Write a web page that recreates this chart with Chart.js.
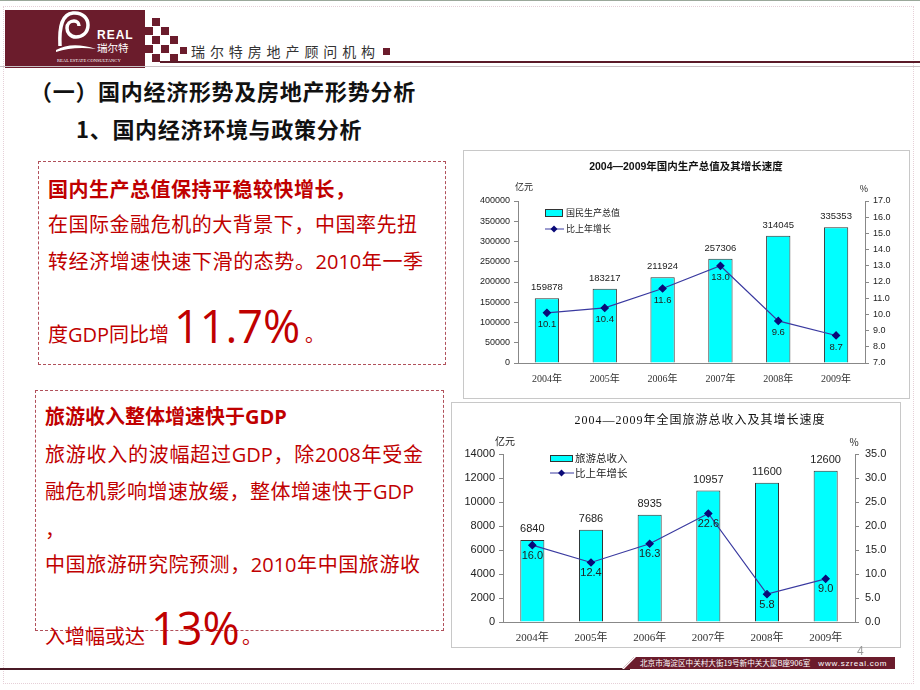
<!DOCTYPE html>
<html>
<head>
<meta charset="utf-8">
<script src="https://cdn.jsdelivr.net/npm/chart.js@4.4.1/dist/chart.umd.min.js"></script>
<style>
  html, body { margin: 0; padding: 0; background: #fff; }
  body { width: 920px; height: 690px; position: relative; overflow: hidden; font-family: "Noto Sans CJK SC", sans-serif; }
  .abs { position: absolute; white-space: nowrap; }
  .sq { position: absolute; width: 8px; height: 8px; background: #6b1c2c; }
  .red { color: #c00000; font-family: "Open Sans", "Noto Sans CJK SC"; font-size: 20px; line-height: 20px; height: 20px; }
  .jus { text-align: justify; text-align-last: justify; white-space: normal; }
  .big { color: #c00000; font-family: "Open Sans", "Noto Sans CJK SC"; font-size: 45px; line-height: 45px; }
  .box { position: absolute; border: 1px dashed #b0505a; box-sizing: border-box; }
  .frame { position: absolute; border: 1px solid #c8c8c8; box-sizing: border-box; }
  canvas { position: absolute; }
</style>
</head>
<body>
<!-- slide frame -->
<div class="abs" style="left:0;top:0;width:920px;height:1px;background:#9aa89a"></div>
<div class="abs" style="left:3px;top:6px;width:911px;height:678px;border:1px dotted #e6d0d8;box-sizing:border-box"></div>

<!-- header -->
<div class="abs" style="left:5px;top:10px;width:140px;height:58px;background:#6b1c2c"></div>
<svg class="abs" style="left:0;top:0" width="150" height="70">
  <path d="M60,46 C59,26 62,14 73,13 C83,12 88,19 88,25 C88,33 82,37 76,37 C70,37 67,32 67,28 C67,24 70,21 74,21 C77,21 79,23 79,26" fill="none" stroke="#fff" stroke-width="3.5"/>
  <path d="M56,50 Q72,41 96,49 Q74,46 56,52 Z" fill="#fff"/>
  <text x="97" y="39" fill="#fff" font-family="Liberation Sans" font-weight="bold" font-size="12" letter-spacing="1">REAL</text>
  <text x="97" y="52" fill="#fff" font-family="Noto Sans CJK SC" font-size="10.5">瑞尔特</text>
  <text x="57" y="62" fill="#fff" font-family="Liberation Serif" font-size="4.6">REAL ESTATE CONSULTANCY</text>
</svg>
<div class="sq" style="left:152px;top:18px"></div>
<div class="sq" style="left:145px;top:27px"></div>
<div class="sq" style="left:161px;top:27px"></div>
<div class="sq" style="left:152px;top:36px"></div>
<div class="sq" style="left:170px;top:36px"></div>
<div class="sq" style="left:145px;top:45px"></div>
<div class="sq" style="left:161px;top:45px"></div>
<div class="sq" style="left:152px;top:54px"></div>
<div class="sq" style="left:170px;top:54px"></div>
<div class="abs" style="left:180px;top:47px;width:7px;height:7px;background:#6b1c2c"></div>
<div class="abs" style="left:191px;top:43px;font-size:14px;line-height:16px;letter-spacing:4.9px;color:#333">瑞尔特房地产顾问机构</div>
<div class="abs" style="left:383px;top:48px;width:7px;height:7px;background:#6b1c2c"></div>
<div class="abs" style="left:160px;top:61px;width:760px;height:2px;background:#5a1a28"></div>
<div class="abs" style="left:0;top:66px;width:920px;height:1px;background:#c8c0c4"></div>

<!-- headings -->
<div class="abs" style="left:30px;top:79px;font-size:22px;line-height:22px;font-weight:bold;letter-spacing:0.7px;color:#111">（一）国内经济形势及房地产形势分析</div>
<div class="abs" style="left:76px;top:117px;font-size:22px;line-height:22px;font-weight:bold;letter-spacing:0.7px;color:#111">1、国内经济环境与政策分析</div>

<!-- text box 1 -->
<div class="box" style="left:38px;top:161px;width:408px;height:204px"></div>
<div class="abs red" style="left:48px;top:180px;font-weight:bold;letter-spacing:0.5px">国内生产总值保持平稳较快增长，</div>
<div class="abs red jus" style="left:48px;top:215px;width:369px">在国际金融危机的大背景下，中国率先扭</div>
<div class="abs red jus" style="left:48px;top:252px;width:375px">转经济增速快速下滑的态势。2010年一季</div>
<div class="abs red" style="left:48px;top:325px">度GDP同比增</div>
<div class="abs big" style="left:174px;top:303px">11.7%</div>
<div class="abs red" style="left:305px;top:325px">。</div>

<!-- text box 2 -->
<div class="box" style="left:35px;top:390px;width:409px;height:241px"></div>
<div class="abs red" style="left:45px;top:407px;font-weight:bold">旅游收入整体增速快于GDP</div>
<div class="abs red jus" style="left:45px;top:445px;width:378px">旅游收入的波幅超过GDP，除2008年受金</div>
<div class="abs red jus" style="left:45px;top:482px;width:369px">融危机影响增速放缓，整体增速快于GDP</div>
<div class="abs red" style="left:45px;top:520px">，</div>
<div class="abs red jus" style="left:45px;top:555px;width:375px">中国旅游研究院预测，2010年中国旅游收</div>
<div class="abs red" style="left:45px;top:627px">入增幅或达</div>
<div class="abs big" style="left:151px;top:605px">13%</div>
<div class="abs red" style="left:242px;top:627px">。</div>

<!-- charts -->
<div class="frame" style="left:463px;top:150px;width:447px;height:249px"></div>
<canvas id="gdpChart" width="447" height="249" style="left:463px;top:150px"></canvas>
<div class="frame" style="left:451px;top:402px;width:450px;height:246px"></div>
<canvas id="tourChart" width="450" height="246" style="left:451px;top:402px"></canvas>

<!-- footer -->
<div class="abs" style="left:0;top:668px;width:630px;height:2px;background:#4a1a26"></div>
<div class="abs" style="left:622px;top:657px;width:273px;height:12px;background:#6b1c2c;clip-path:polygon(12px 0,100% 0,100% 100%,0 100%)"></div>
<div class="abs" style="left:628px;top:657px;width:2px;height:12px;background:#fff;transform:skewX(-45deg)"></div>
<div class="abs" style="left:640px;top:657px;font-size:7.6px;line-height:12px;color:#fff">北京市海淀区中关村大街19号新中关大厦B座906室<span style="letter-spacing:0.8px;margin-left:8px;font-size:8px;font-family:'Liberation Sans'">www.szreal.com</span></div>
<div class="abs" style="left:857px;top:645px;font-size:12px;line-height:12px;color:#999;font-family:'Liberation Sans'">4</div>

<script>
const years = ['2004年', '2005年', '2006年', '2007年', '2008年', '2009年'];

const gdpValues = [159878, 183217, 211924, 257306, 314045, 335353];
const gdpGrowth = [10.1, 10.4, 11.6, 13.0, 9.6, 8.7];
const gdpLeftAxis = [0, 400000, 50000];
const gdpRightAxis = [7, 17, 1];

const tourValues = [6840, 7686, 8935, 10957, 11600, 12600];
const tourGrowth = [16.0, 12.4, 16.3, 22.6, 5.8, 9.0];
const tourLeftAxis = [0, 14000, 2000];
const tourRightAxis = [0, 35, 5];

const CYAN = '#00ffff';
const NAVY = '#3a3aa0';

// bar / point labels, title, units and the little legend
const decoPlugin = {
  id: 'deco',
  afterDatasetsDraw(chart, args, o) {
    const ctx = chart.ctx;
    ctx.save();
    ctx.fillStyle = '#222';
    ctx.font = o.numFont;
    ctx.textAlign = 'center';
    ctx.textBaseline = 'bottom';
    const barSet = chart.data.datasets[0];
    chart.getDatasetMeta(0).data.forEach((b, i) => ctx.fillText(String(barSet.data[i]), b.x, b.y - o.barGap));
    ctx.textBaseline = 'top';
    const lineSet = chart.data.datasets[1];
    chart.getDatasetMeta(1).data.forEach((p, i) => ctx.fillText(lineSet.data[i].toFixed(1), p.x, p.y + o.ptGap));
    ctx.restore();
  },
  afterDraw(chart, args, o) {
    const ctx = chart.ctx;
    ctx.save();
    ctx.fillStyle = '#111';
    ctx.textAlign = 'center';
    ctx.textBaseline = 'middle';
    ctx.font = o.titleFont;
    ctx.letterSpacing = o.titleSpacing || '0px';
    ctx.fillText(o.title, o.titlePos[0], o.titlePos[1]);
    ctx.letterSpacing = '0px';

    ctx.font = o.unitFont;
    ctx.fillStyle = '#222';
    ctx.fillText('亿元', o.unitLeft[0], o.unitLeft[1]);
    ctx.fillText('%', o.unitRight[0], o.unitRight[1]);

    // legend
    const [rx, ry, rw, rh] = o.legRect;
    ctx.fillStyle = CYAN;
    ctx.fillRect(rx, ry, rw, rh);
    ctx.strokeStyle = '#333';
    ctx.lineWidth = 1;
    ctx.strokeRect(rx + 0.5, ry + 0.5, rw - 1, rh - 1);
    ctx.strokeStyle = NAVY;
    ctx.beginPath();
    ctx.moveTo(rx, o.legLineY);
    ctx.lineTo(rx + rw + 1, o.legLineY);
    ctx.stroke();
    const cx = rx + rw / 2, cy = o.legLineY;
    ctx.fillStyle = '#0a0a78';
    ctx.beginPath();
    ctx.moveTo(cx, cy - 3.5); ctx.lineTo(cx + 3.5, cy); ctx.lineTo(cx, cy + 3.5); ctx.lineTo(cx - 3.5, cy);
    ctx.closePath();
    ctx.fill();

    ctx.fillStyle = '#222';
    ctx.font = o.legFont;
    ctx.textAlign = 'left';
    ctx.fillText(o.barName, o.legTextX, ry + rh / 2);
    ctx.fillText('比上年增长', o.legTextX, o.legLineY);
    ctx.restore();
  }
};

function makeChart(id, bars, line, leftAxis, rightAxis, s) {
  const tickFont = { family: 'Liberation Sans', size: s.tickSize };
  const axisGrid = { drawOnChartArea: false, tickLength: 4, color: '#888' };
  return new Chart(document.getElementById(id), {
    type: 'bar',
    data: {
      labels: years,
      datasets: [
        {
          type: 'bar', data: bars, yAxisID: 'y', order: 2,
          backgroundColor: CYAN, borderColor: '#333', borderWidth: 1,
          barPercentage: s.barPct, categoryPercentage: 1
        },
        {
          type: 'line', data: line, yAxisID: 'y1', order: 1,
          borderColor: NAVY, borderWidth: 1.2, tension: 0,
          pointStyle: 'rectRot', pointRadius: 3.5,
          pointBackgroundColor: '#0a0a78', pointBorderColor: '#0a0a78'
        }
      ]
    },
    options: {
      responsive: false,
      animation: false,
      layout: { padding: { top: s.top, left: 0, right: 0, bottom: 0 } },
      plugins: { legend: { display: false }, tooltip: { enabled: false }, deco: s.deco },
      scales: {
        x: {
          afterFit: sc => { sc.height = s.bottom; },
          grid: { drawOnChartArea: false, drawTicks: false, color: '#888' },
          border: { color: '#888' },
          ticks: { padding: s.xPad, color: '#333', font: { family: 'Liberation Serif, Noto Sans CJK SC', size: s.xSize } }
        },
        y: {
          position: 'left', min: leftAxis[0], max: leftAxis[1],
          afterFit: sc => { sc.width = s.left; },
          grid: axisGrid, border: { color: '#888' },
          ticks: { stepSize: leftAxis[2], padding: 4, color: '#222', font: tickFont, callback: v => String(v) }
        },
        y1: {
          position: 'right', min: rightAxis[0], max: rightAxis[1],
          afterFit: sc => { sc.width = s.right; },
          grid: axisGrid, border: { color: '#888' },
          ticks: { stepSize: rightAxis[2], padding: s.rPad, color: '#222', font: tickFont, callback: v => v.toFixed(1) }
        }
      }
    },
    plugins: [decoPlugin]
  });
}

makeChart('gdpChart', gdpValues, gdpGrowth, gdpLeftAxis, gdpRightAxis, {
  top: 51, bottom: 36, left: 55, right: 45, barPct: 0.42,
  tickSize: 9, xSize: 10, xPad: 10, rPad: 4,
  deco: {
    title: '2004—2009年国内生产总值及其增长速度',
    titleFont: 'bold 10.5px "Liberation Sans", "Noto Sans CJK SC"',
    titlePos: [223, 17],
    unitFont: '9px "Noto Sans CJK SC"', unitLeft: [61, 37], unitRight: [401, 39],
    numFont: '9.5px "Liberation Sans"', barGap: 6, ptGap: 7,
    legRect: [82, 59, 18, 8], legLineY: 79, legTextX: 103,
    legFont: '9px "Noto Sans CJK SC"', barName: '国民生产总值'
  }
});

makeChart('tourChart', tourValues, tourGrowth, tourLeftAxis, tourRightAxis, {
  top: 52, bottom: 26, left: 52, right: 46, barPct: 0.41,
  tickSize: 11, xSize: 11, xPad: 10, rPad: 6,
  deco: {
    title: '2004—2009年全国旅游总收入及其增长速度',
    titleFont: '12px "Liberation Serif", "Noto Sans CJK SC"', titleSpacing: '1px',
    titlePos: [249, 19],
    unitFont: '10px "Noto Sans CJK SC"', unitLeft: [54, 39], unitRight: [403, 40],
    numFont: '11px "Liberation Sans"', barGap: 5, ptGap: 5,
    legRect: [99, 53, 23, 7], legLineY: 71, legTextX: 124,
    legFont: '10.5px "Noto Sans CJK SC"', barName: '旅游总收入'
  }
});
</script>
</body>
</html>
